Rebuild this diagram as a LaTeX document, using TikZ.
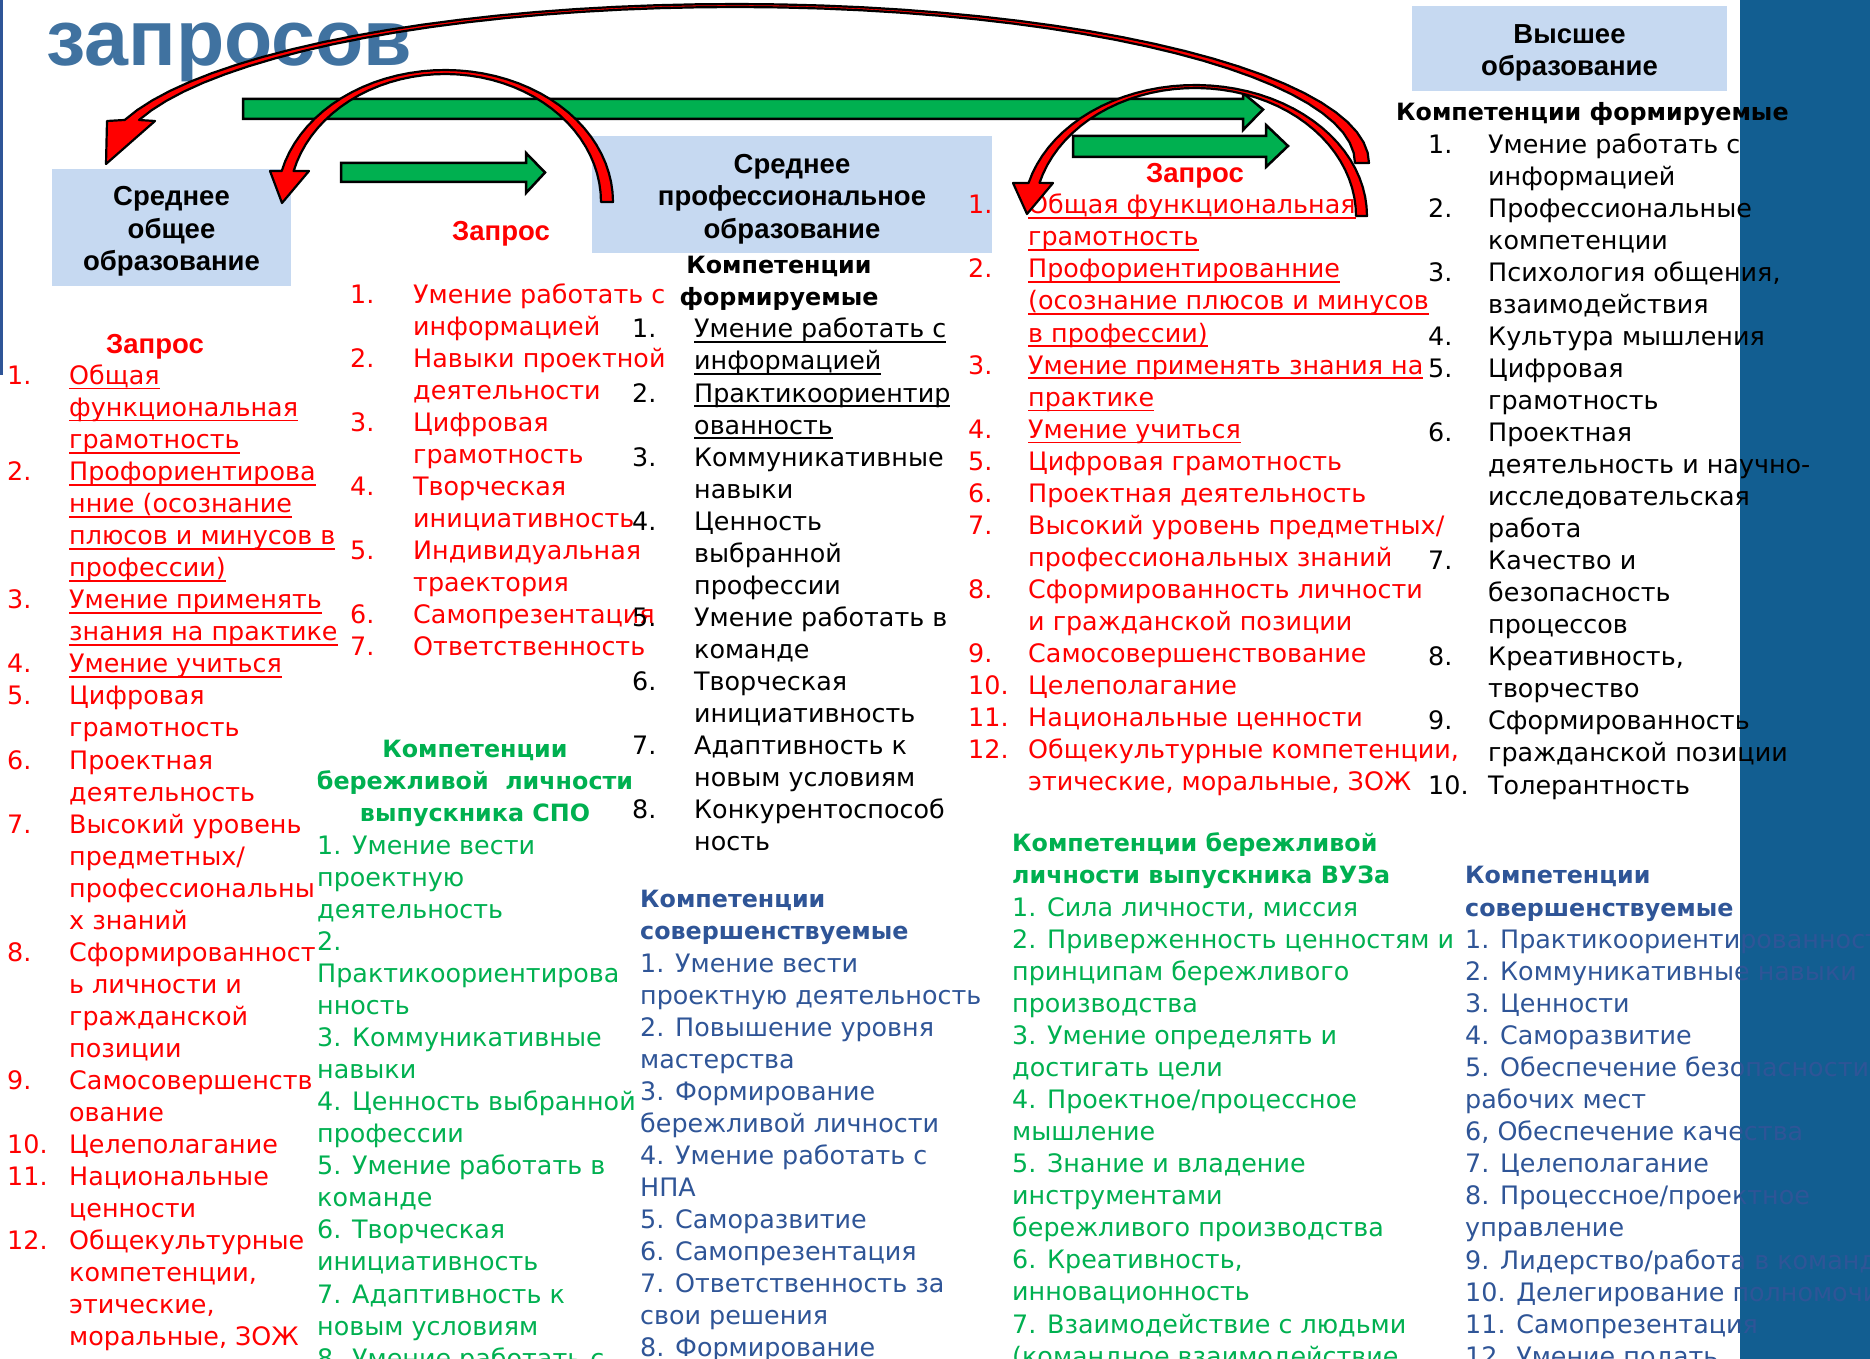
\documentclass[tikz,border=0pt]{standalone}
\usepackage{fontspec}
\setmainfont{DejaVu Sans}
\newfontfamily\boxfont{Liberation Sans}
\newcommand\ulx[1]{\setbox0\hbox{#1}\rlap{\rule[-5pt]{\wd0}{1.6pt}}\box0}
\definecolor{cred}{RGB}{255,0,0}
\definecolor{cgreen}{RGB}{0,176,80}
\definecolor{cblue}{RGB}{47,85,151}
\definecolor{cbox}{RGB}{198,217,241}
\definecolor{cband}{RGB}{18,94,145}
\definecolor{ctitle}{RGB}{64,114,160}
\newcommand\ListLines[5]{\foreach \txt [count=\ii from 0] in {#5} {\node[#1] (#4-\ii) at (#2, {#3+32.05*\ii}) {\txt};}}
\newcommand\ListNums[5]{\foreach \nn/\kk in {#5} {\node[#1] (#4-n\nn) at (#2, {#3+32.05*\kk}) {\nn.};}}
\tikzset{
  itm/.style={anchor=mid west, inner sep=0pt, font=\fontsize{25.4}{30}\selectfont},
  hdr/.style={anchor=mid west, inner sep=0pt, font=\fontsize{23.8}{28}\selectfont\bfseries},
  hdrc/.style={hdr, anchor=mid},
  zap/.style={inner sep=0pt, text=cred, font=\fontsize{27.5}{32}\boxfont\bfseries},
  boxbg/.style={fill=cbox, inner sep=0pt},
  boxtxt/.style={inner sep=0pt, align=center, font=\fontsize{27.5}{32.5}\boxfont\bfseries},
  garrow/.style={fill=cgreen, draw=black, line width=2.5pt, line join=miter},
  rarrow/.style={fill=cred, draw=black, line width=2.2pt, line join=round}
}
\begin{document}
\begin{tikzpicture}[x=1pt,y=-1pt]
\useasboundingbox (0,0) rectangle (1870,1359);
\clip (0,0) rectangle (1870,1359);
\fill[cband] (1740,0) rectangle (1870,1359);
\fill[cblue] (0,0) rectangle (3,375);
\node[anchor=base west, inner sep=0pt, text=ctitle, font=\fontsize{79}{90}\boxfont\bfseries] (title) at (46,66) {запросов};
% boxes
\node[boxbg, minimum width=239pt, minimum height=117pt] (b1) at (171.5,227.5) {};
\node[boxbg, minimum width=400pt, minimum height=117pt] (b2) at (792,194.5) {};
\node[boxbg, minimum width=315pt, minimum height=85pt] (b3) at (1569.5,48.5) {};
\node[boxtxt] (b1t) at (171.5,231.5) {Среднее\\общее\\образование};
\node[boxtxt] (b2t) at (792,199) {Среднее\\профессиональное\\образование};
\node[boxtxt] (b3t) at (1569.5,53) {Высшее\\образование};
\node[zap] (z1) at (155,346.5) {Запрос};
\node[zap] (z2) at (501,233.5) {Запрос};
\node[zap] (z3) at (1195,176) {Запрос};
% column 1
\ListNums{itm, text=cred}{7}{381.7}{c1}{1/0,2/3,3/7,4/9,5/10,6/12,7/14,8/18,9/22,10/24,11/25,12/27}
\ListLines{itm, text=cred}{69}{381.7}{c1}{{\ulx{Общая}},{\ulx{функциональная}},{\ulx{грамотность}},{\ulx{Профориентирова}},{\ulx{нние (осознание}},{\ulx{плюсов и минусов в}},{\ulx{профессии)}},{\ulx{Умение применять}},{\ulx{знания на практике}},{\ulx{Умение учиться}},Цифровая,грамотность,Проектная,деятельность,Высокий уровень,предметных/,профессиональны,х знаний,Сформированност,ь личности и,гражданской,позиции,Самосовершенств,ование,Целеполагание,Национальные,ценности,Общекультурные,{компетенции,},{этические,},{моральные, ЗОЖ}}
% column 2
\ListNums{itm, text=cred}{350}{300.6}{c2}{1/0,2/2,3/4,4/6,5/8,6/10,7/11}
\ListLines{itm, text=cred}{413}{300.6}{c2}{Умение работать с,информацией,Навыки проектной,деятельности,Цифровая,грамотность,Творческая,инициативность,Индивидуальная,траектория,Самопрезентация,Ответственность}
% column 3
\node[hdrc] (h3a) at (779,271) {Компетенции};
\node[hdrc] (h3b) at (779,303) {формируемые};
\ListNums{itm, text=black}{632}{335.2}{c3}{1/0,2/2,3/4,4/6,5/9,6/11,7/13,8/15}
\ListLines{itm, text=black}{694}{335.2}{c3}{{\ulx{Умение работать с}},{\ulx{информацией}},{\ulx{Практикоориентир}},{\ulx{ованность}},Коммуникативные,навыки,Ценность,выбранной,профессии,Умение работать в,команде,Творческая,инициативность,Адаптивность к,новым условиям,Конкурентоспособ,ность}
% column 4
\node[hdrc, text=cgreen] (h4a) at (475,755) {Компетенции};
\node[hdrc, text=cgreen] (h4b) at (475,787) {бережливой\ \ личности};
\node[hdrc, text=cgreen] (h4c) at (475,819) {выпускника СПО};
\ListLines{itm, text=cgreen}{317}{851.6}{c4}{1. Умение вести,проектную,деятельность,2.,Практикоориентирова,нность,3. Коммуникативные,навыки,4. Ценность выбранной,профессии,5. Умение работать в,команде,6. Творческая,инициативность,7. Адаптивность к,новым условиям,8. Умение работать с}
% column 5
\node[hdr, text=cblue] (h5a) at (640,905) {Компетенции};
\node[hdr, text=cblue] (h5b) at (640,937) {совершенствуемые};
\ListLines{itm, text=cblue}{640}{969.6}{c5}{1. Умение вести,проектную деятельность,2. Повышение уровня,мастерства,3. Формирование,бережливой личности,4. Умение работать с,НПА,5. Саморазвитие,6. Самопрезентация,7. Ответственность за,свои решения,8. Формирование}
% column 6
\ListNums{itm, text=cred}{968}{211.1}{c6}{1/0,2/2,3/5,4/7,5/8,6/9,7/10,8/12,9/14,10/15,11/16,12/17}
\ListLines{itm, text=cred}{1028}{211.1}{c6}{{\ulx{Общая функциональная}},{\ulx{грамотность}},{\ulx{Профориентированние}},{\ulx{(осознание плюсов и минусов}},{\ulx{в профессии)}},{\ulx{Умение применять знания на}},{\ulx{практике}},{\ulx{Умение учиться}},Цифровая грамотность,Проектная деятельность,Высокий уровень предметных/,профессиональных знаний,Сформированность личности,и гражданской позиции,Самосовершенствование,Целеполагание,Национальные ценности,{Общекультурные компетенции,},{этические, моральные, ЗОЖ}}
% column 7
\node[hdr] (h7) at (1396,118) {Компетенции формируемые};
\ListNums{itm, text=black}{1428}{150.3}{c7}{1/0,2/2,3/4,4/6,5/7,6/9,7/13,8/16,9/18,10/20}
\ListLines{itm, text=black}{1488}{150.3}{c7}{Умение работать с,информацией,Профессиональные,компетенции,{Психология общения,},взаимодействия,Культура мышления,Цифровая,грамотность,Проектная,деятельность и научно-,исследовательская,работа,Качество и,безопасность,процессов,{Креативность,},творчество,Сформированность,гражданской позиции,Толерантность}
% column 8
\node[hdr, text=cgreen] (h8a) at (1012,849) {Компетенции бережливой};
\node[hdr, text=cgreen] (h8b) at (1012,881) {личности выпускника ВУЗа};
\ListLines{itm, text=cgreen}{1012}{913.6}{c8}{{1. Сила личности, миссия},2. Приверженность ценностям и,принципам бережливого,производства,3. Умение определять и,достигать цели,4. Проектное/процессное,мышление,5. Знание и владение,инструментами,бережливого производства,{6. Креативность,},инновационность,7. Взаимодействие с людьми,{(командное взаимодействие}}
% column 9
\node[hdr, text=cblue] (h9a) at (1465,881) {Компетенции};
\node[hdr, text=cblue] (h9b) at (1465,913.6) {совершенствуемые};
\ListLines{itm, text=cblue}{1465}{945.8}{c9}{1. Практикоориентированность,2. Коммуникативные навыки,3. Ценности,4. Саморазвитие,5. Обеспечение безопасности,рабочих мест,{6, Обеспечение качества},7. Целеполагание,8. Процессное/проектное,управление,9. Лидерство/работа в команде,10. Делегирование полномочий,11. Самопрезентация,12. Умение подать}
% green arrows
\draw[garrow] (243,99) -- (1243,99) -- (1243,93) -- (1263,109.5) -- (1243,130) -- (1243,119) -- (243,119) -- cycle;
\draw[garrow] (341,163) -- (526,163) -- (526,153) -- (545,172.5) -- (526,193) -- (526,182) -- (341,182) -- cycle;
\draw[garrow] (1073,136) -- (1266,136) -- (1266,125) -- (1288,146) -- (1266,167) -- (1266,157) -- (1073,157) -- cycle;
% red curved arrows
\draw[rarrow] plot[domain=0:164.3, samples=45] ({735+634*cos(\x)},{163-159*sin(\x)})
  -- (107,121) -- (106,164) -- (155,121)
  -- plot[domain=0:164, samples=45] ({735+620*cos(164-\x)},{163-156*sin(164-\x)}) -- cycle;
\draw[rarrow] plot[domain=0:166.4, samples=40] ({445+168*cos(\x)},{202-132*sin(\x)})
  -- (270,171) -- (282,203) -- (309,171)
  -- plot[domain=0:166, samples=40] ({445+156*cos(166-\x)},{202-128*sin(166-\x)}) -- cycle;
\draw[rarrow] plot[domain=0:165.4, samples=40] ({1195+172*cos(\x)},{216-131*sin(\x)})
  -- (1013,183) -- (1027,214) -- (1053,183)
  -- plot[domain=0:165, samples=40] ({1195+161*cos(165-\x)},{216-128*sin(165-\x)}) -- cycle;
\end{tikzpicture}
\end{document}
